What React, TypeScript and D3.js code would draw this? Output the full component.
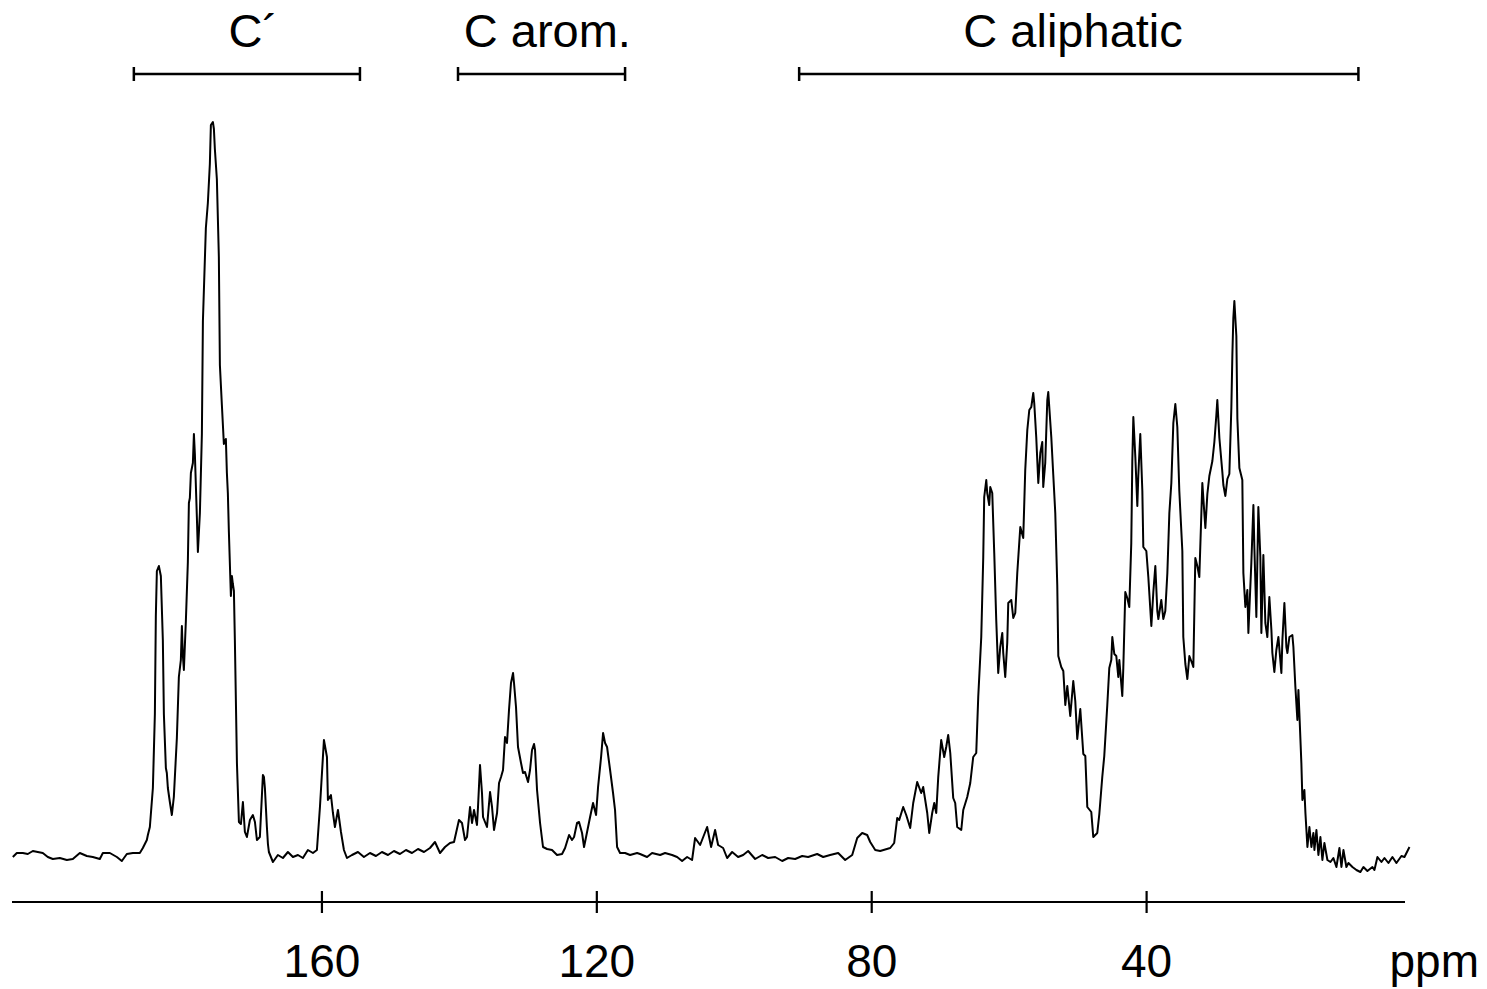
import React from "react";
import * as d3 from "d3";

// ---- Data (chemical shift in ppm, intensity in arbitrary units) ----
const baselineLeft: [number, number][] = [
  [204.98, 0], [204.40, 4], [203.53, 4], [202.80, 3], [202.07, 6], [201.35, 5], [200.62, 4],
  [199.89, 0], [199.16, -2], [198.14, -1], [197.12, -3], [196.25, -2], [195.23, 4], [194.21, 1],
  [193.34, 0], [192.32, -2], [191.88, 4], [190.86, 4], [189.84, 0], [189.12, -4], [188.39, 3],
  [187.51, 4], [186.50, 4], [186.06, 9], [185.48, 17], [185.33, 22],
];

const carbonylRegion: [number, number][] = [
  [185.04, 30], [184.60, 69], [184.31, 143], [184.17, 241], [184.02, 286], [183.73, 291],
  [183.44, 281], [183.15, 217], [183.00, 143], [182.71, 89], [182.57, 84], [182.42, 69],
  [182.13, 55], [181.84, 42], [181.55, 60], [181.11, 119], [180.82, 180], [180.53, 197],
  [180.38, 231], [180.24, 202], [180.09, 187], [179.80, 236], [179.51, 295], [179.36, 354],
  [179.22, 359], [179.07, 384], [178.78, 394], [178.63, 423], [178.49, 403], [178.20, 340],
  [178.05, 305], [177.76, 344], [177.47, 423], [177.32, 536], [176.89, 629], [176.60, 654],
  [176.31, 693], [176.16, 732], [175.87, 735], [175.72, 728], [175.58, 708], [175.29, 678],
  [175.00, 600], [174.85, 492], [174.56, 452], [174.27, 413], [173.98, 418], [173.83, 384],
  [173.69, 364], [173.54, 325], [173.25, 261], [173.10, 281], [172.96, 273], [172.81, 266],
  [172.67, 217], [172.37, 94], [172.08, 35], [171.79, 33], [171.50, 55], [171.21, 25],
  [170.92, 20], [170.48, 37], [170.05, 42], [169.75, 35], [169.46, 17], [169.03, 20],
  [168.59, 82], [168.44, 80], [168.30, 69], [168.01, 30], [167.86, 13], [167.72, 5],
  [167.13, -5], [166.41, 2], [165.68, -1], [164.95, 5], [164.22, 0], [163.49, 2], [162.77, -1],
  [162.04, 7], [161.31, 4], [160.73, 7], [160.29, 50], [159.71, 117], [159.27, 100],
  [159.13, 57], [158.69, 62], [158.40, 44], [158.11, 30], [157.67, 47], [157.23, 25],
  [156.80, 7], [156.36, -1], [155.63, 2], [154.76, 5], [153.89, 0], [153.01, 4], [152.14, 1],
  [151.27, 5], [150.39, 2], [149.52, 6], [148.65, 3], [147.77, 7], [146.90, 4], [146.02, 8],
  [145.15, 5],
];

const aromaticRegion: [number, number][] = [
  [144.28, 9], [143.55, 15], [142.82, 4], [142.09, 10], [141.37, 14], [140.78, 15], [140.06, 37],
  [139.62, 34], [139.18, 17], [138.89, 20], [138.45, 50], [138.16, 34], [137.87, 47], [137.44, 32],
  [137.29, 50], [137.00, 92], [136.71, 64], [136.56, 40], [135.98, 30], [135.54, 65], [135.25, 50],
  [134.96, 27], [134.52, 44], [134.23, 74], [133.94, 80], [133.65, 87], [133.36, 120], [133.07, 114],
  [132.78, 147], [132.49, 174], [132.19, 184], [132.05, 174], [131.76, 150], [131.47, 110],
  [131.03, 94], [130.74, 84], [130.45, 85], [130.01, 75], [129.72, 87], [129.43, 107],
  [129.14, 113], [128.99, 107], [128.70, 67], [128.26, 34], [127.83, 10], [127.24, 8], [126.52, 7],
  [125.79, 2], [125.06, 3], [124.62, 9], [124.04, 22], [123.61, 17], [123.31, 20], [122.88, 34],
  [122.59, 35], [122.15, 24], [121.86, 10], [121.42, 25], [120.98, 40], [120.55, 54], [120.11, 42],
  [119.82, 70], [119.38, 100], [119.09, 124], [118.80, 114], [118.51, 110], [118.07, 87],
  [117.64, 64], [117.35, 47], [117.05, 10], [116.62, 4], [115.89, 4], [115.16, 2], [114.14, 4],
];

const baselineMid: [number, number][] = [
  [113.71, 3], [112.69, 0], [111.96, 4], [110.79, 2], [110.07, 4], [109.05, 2], [108.32, 0],
  [107.59, -4], [106.86, 0], [106.14, -3], [105.70, 19], [104.97, 12], [103.95, 30], [103.37, 10],
  [102.79, 27], [102.35, 12], [101.62, 9], [101.04, -1], [100.31, 5], [99.44, 0], [98.71, 2],
  [97.98, 6], [96.96, -2], [95.94, 2], [95.07, -1], [94.05, 0], [93.03, -4], [92.16, -1],
  [91.14, -2], [90.12, 1], [89.25, 0], [87.94, 3], [87.06, 0], [86.05, 2], [84.88, 4], [83.86, -3],
  [82.84, 2], [82.11, 19], [81.39, 24], [80.66, 22], [80.22, 15], [79.49, 7], [78.77, 6],
];

const aliphaticRegion: [number, number][] = [
  [77.31, 9], [76.73, 14], [76.29, 39], [76.00, 37], [75.42, 50], [74.98, 42], [74.40, 29],
  [73.96, 54], [73.38, 75], [72.80, 64], [72.51, 70], [71.92, 44], [71.63, 24], [71.20, 44],
  [70.90, 54], [70.61, 44], [70.32, 80], [69.89, 117], [69.45, 100], [69.16, 110], [68.87, 122],
  [68.57, 104], [68.14, 59], [67.85, 54], [67.56, 30], [66.97, 27], [66.68, 47], [66.10, 60],
  [65.66, 74], [65.23, 100], [64.79, 104], [64.50, 160], [64.06, 220], [63.77, 300], [63.63, 360],
  [63.33, 377], [63.19, 364], [62.90, 352], [62.75, 370], [62.46, 364], [62.17, 304], [61.88, 237],
  [61.59, 184], [61.30, 210], [61.00, 224], [60.86, 204], [60.57, 180], [60.28, 214], [60.13, 254],
  [59.69, 257], [59.40, 239], [59.11, 244], [58.82, 284], [58.38, 330], [57.95, 319], [57.66, 387],
  [57.36, 427], [57.07, 447], [56.78, 450], [56.49, 464], [56.35, 454], [56.06, 420], [55.76, 374],
  [55.47, 404], [55.18, 415], [55.04, 370], [54.75, 394], [54.45, 457], [54.31, 465], [53.87, 420],
  [53.58, 382], [53.29, 344], [53.00, 272], [52.85, 201], [52.42, 190], [52.12, 186], [51.83, 152],
  [51.54, 171], [51.11, 141], [50.67, 176], [50.38, 156], [50.09, 118], [49.65, 148], [49.21, 103],
  [48.92, 101], [48.63, 50], [48.05, 45], [47.76, 20], [47.18, 24], [46.88, 43], [46.45, 80],
  [46.16, 101], [45.72, 152], [45.43, 189], [45.14, 197], [44.99, 220], [44.70, 203], [44.41, 201],
  [44.12, 180], [43.97, 197], [43.54, 161], [43.39, 189], [43.10, 265], [42.81, 259], [42.52, 250],
  [42.23, 314], [42.08, 396], [41.93, 440], [41.64, 400], [41.35, 351], [41.21, 381], [40.92, 423],
  [40.62, 366], [40.48, 310], [40.04, 306], [39.75, 280], [39.31, 231], [39.02, 265], [38.73, 291],
  [38.44, 246], [38.29, 238], [37.86, 257], [37.57, 238], [37.28, 246], [36.98, 284], [36.69, 344],
  [36.40, 374], [36.11, 434], [35.82, 453], [35.53, 430], [35.24, 366], [34.80, 306], [34.66, 220],
  [34.36, 193], [34.07, 178], [33.78, 201], [33.34, 193], [33.20, 190], [32.91, 299], [32.62, 291],
  [32.33, 280], [32.03, 344], [31.89, 374], [31.60, 344], [31.45, 329], [31.16, 363], [30.87, 381],
  [30.43, 396], [30.14, 415], [29.85, 442], [29.71, 457], [29.41, 419], [28.98, 385], [28.83, 372],
  [28.54, 361], [28.25, 378], [27.96, 383], [27.67, 449], [27.52, 502], [27.38, 539], [27.23, 556],
  [26.94, 521], [26.79, 438], [26.50, 389], [26.07, 377], [25.92, 284], [25.63, 250], [25.34, 267],
  [25.19, 224], [24.76, 294], [24.46, 352], [24.32, 310], [24.03, 240], [23.74, 350], [23.45, 300],
  [23.30, 224], [23.01, 302], [22.72, 234], [22.43, 220], [22.14, 260], [21.84, 227], [21.70, 204],
  [21.41, 185], [21.12, 207], [20.82, 220], [20.39, 184], [20.24, 217], [19.95, 254], [19.66, 210],
  [19.51, 204], [19.22, 220], [18.79, 222], [18.64, 210], [18.35, 170], [18.06, 137], [17.91, 167],
  [17.77, 144], [17.48, 94], [17.33, 57], [17.04, 67], [16.89, 44], [16.60, 10], [16.31, 30],
  [16.02, 10], [15.73, 24], [15.58, 7], [15.29, 27], [15.00, 2], [14.71, 20], [14.42, -3],
  [14.13, 14], [13.69, -3], [13.25, -5], [12.82, -1], [12.38, -10], [11.94, 9], [11.65, -10],
  [11.36, 7], [10.93, -10], [10.63, -6], [10.05, -10], [9.47, -13], [8.89, -15], [8.45, -10],
  [7.87, -14], [7.14, -10], [6.85, -13], [6.41, 0], [5.83, -5], [5.39, -1], [4.81, -6], [4.23, 0],
  [3.65, -6], [2.92, 1], [2.48, 0], [1.75, 10],
];

const tickValues = [160, 120, 80, 40];
const axisDomain: [number, number] = [205.1, 2.4];
const axisUnit = "ppm";

const regionNames = ["C´", "C arom.", "C aliphatic"];
const regionStart = [187.37, 140.2, 90.56];
const regionEnd = [154.47, 115.89, 9.18];
const regionLabelAt = [170.0, 127.2, 50.7];

const W = 1487;
const H = 989;
const FONT = "'Liberation Sans', Arial, Helvetica, sans-serif";

export default function App() {
  const x = d3.scaleLinear().domain(axisDomain).range([12, 1405]);
  const y = d3.scaleLinear().domain([0, 735]).range([857, 122]);

  const spectrum = [
    ...baselineLeft,
    ...carbonylRegion,
    ...aromaticRegion,
    ...baselineMid,
    ...aliphaticRegion,
  ];
  const line = d3
    .line<[number, number]>()
    .x((d) => x(d[0]))
    .y((d) => y(d[1]));

  const axisY = 902;
  const bracketY = 74;

  return (
    <div style={{ position: "absolute", left: 0, top: 0 }}>
      <svg width={W} height={H} style={{ display: "block", background: "#fff" }}>
        {/* region brackets */}
        {regionNames.map((name, i) => (
          <g key={name}>
            <line x1={x(regionStart[i])} x2={x(regionEnd[i])} y1={bracketY} y2={bracketY} stroke="#000" strokeWidth={2.7} />
            <line x1={x(regionStart[i])} x2={x(regionStart[i])} y1={bracketY - 7} y2={bracketY + 7} stroke="#000" strokeWidth={2.5} />
            <line x1={x(regionEnd[i])} x2={x(regionEnd[i])} y1={bracketY - 7} y2={bracketY + 7} stroke="#000" strokeWidth={2.5} />
            <text x={x(regionLabelAt[i])} y={47} textAnchor="middle" fontFamily={FONT} fontSize={47} fill="#000">
              {name}
            </text>
          </g>
        ))}

        {/* spectrum */}
        <path d={line(spectrum) || ""} fill="none" stroke="#000" strokeWidth={2} strokeLinejoin="round" />

        {/* axis */}
        <line x1={x(axisDomain[0])} x2={x(axisDomain[1])} y1={axisY} y2={axisY} stroke="#000" strokeWidth={2} />
        {tickValues.map((t) => (
          <g key={t}>
            <line x1={x(t)} x2={x(t)} y1={axisY - 11} y2={axisY + 11} stroke="#000" strokeWidth={2.2} />
            <text x={x(t)} y={977} textAnchor="middle" fontFamily={FONT} fontSize={46} fill="#000">
              {t}
            </text>
          </g>
        ))}
        <text x={1479} y={977} textAnchor="end" fontFamily={FONT} fontSize={46} fill="#000">
          {axisUnit}
        </text>
      </svg>
    </div>
  );
}
